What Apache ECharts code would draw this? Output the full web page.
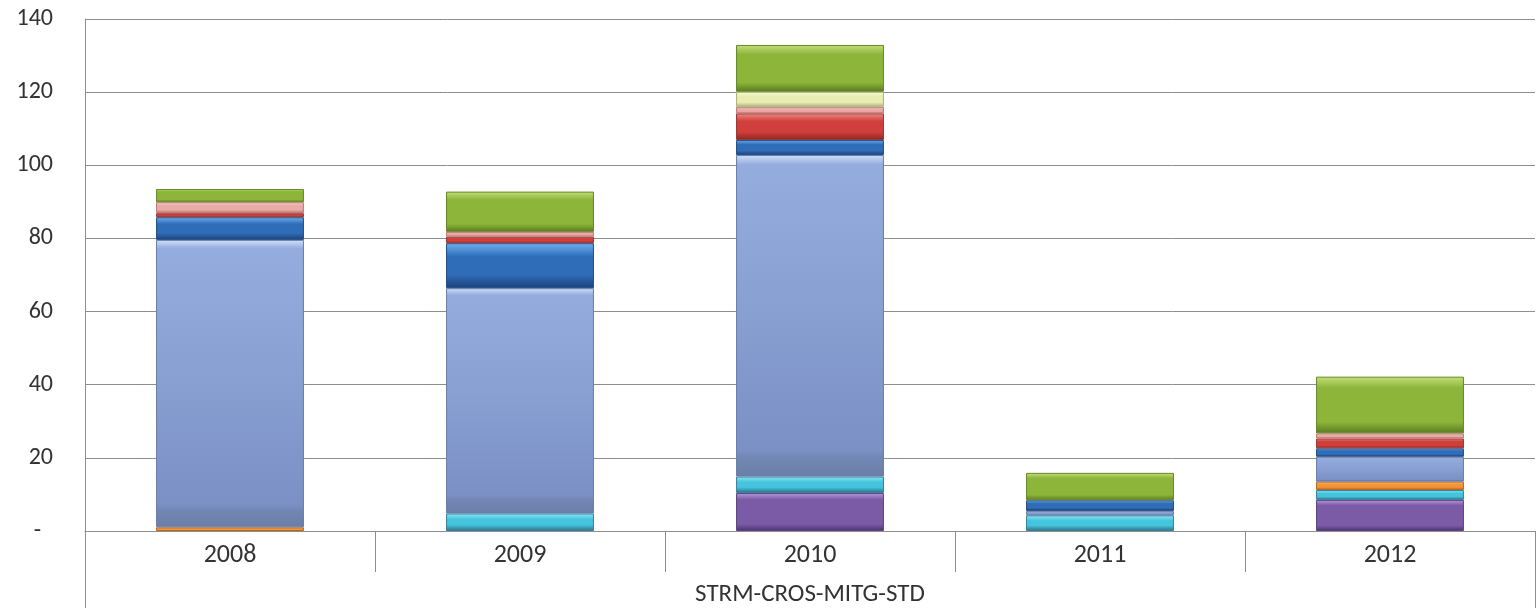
<!DOCTYPE html>
<html>
<head>
<meta charset="utf-8">
<style>
  html, body { margin: 0; padding: 0; background: #ffffff; }
  #chart { width: 1537px; height: 608px; }
</style>
<script src="https://cdn.jsdelivr.net/npm/echarts@6/dist/echarts.min.js"></script>
</head>
<body>
<div id="chart"></div>
<script>
// Years on the category axis and the group they belong to
const years = ['2008', '2009', '2010', '2011', '2012'];
const groupLabel = 'STRM-CROS-MITG-STD';

// Value axis ticks
const yTicks = [0, 20, 40, 60, 80, 100, 120, 140];

// Stacked components, bottom to top
const purpleVals = [null, null, 10.4, null, 8.5];
const cyanVals   = [null, 4.8, 4.5, 4.3, 2.7];
const orangeVals = [1.0, null, null, null, 2.3];
const paleBlueVals = [78.6, 61.6, 87.9, 1.2, 6.8];
const blueVals   = [6.2, 12.3, 4.1, 2.9, 2.3];
const redVals    = [1.1, 1.8, 7.3, null, 2.7];
const pinkVals   = [3.0, 1.3, 1.8, null, 1.4];
const creamVals  = [null, null, 4.1, null, null];
const greenVals  = [3.6, 11.0, 12.8, 7.5, 15.5];

const FONT = "Carlito, 'Liberation Sans Narrow', 'Liberation Sans', sans-serif";
const GRID_GREY = '#8e8e8e';
const TEXT = '#333333';

// Beveled look: light top edge, body colour, dark bottom edge
function bevel(light, main, dark, edge) {
  return new echarts.graphic.LinearGradient(0, 0, 0, 1, [
    { offset: 0, color: light },
    { offset: edge, color: main },
    { offset: 1 - edge, color: main },
    { offset: 1, color: dark }
  ]);
}

const layers = [
  { name: 'purple',   data: purpleVals,   fill: bevel('#b59ad8', '#7b5aa6', '#4a3470', 0.18), border: '#5a4380' },
  { name: 'cyan',     data: cyanVals,     fill: bevel('#8fe6f5', '#45c4de', '#2a6f86', 0.35), border: '#3a8096' },
  { name: 'orange',   data: orangeVals,   fill: bevel('#fbc27a', '#f39437', '#b0601e', 0.35), border: '#b56822' },
  { name: 'paleBlue', data: paleBlueVals,
    fill: new echarts.graphic.LinearGradient(0, 0, 0, 1, [
      { offset: 0, color: '#cfe2f8' },
      { offset: 0.03, color: '#95acdf' },
      { offset: 0.5, color: '#889fd2' },
      { offset: 0.92, color: '#7b90c4' },
      { offset: 0.94, color: '#7387b5' },
      { offset: 1, color: '#6a7ea8' }
    ]), border: '#6a7ca6' },
  { name: 'blue',     data: blueVals,     fill: bevel('#6fb0ef', '#2f6db8', '#1c4178', 0.3), border: '#244d85' },
  { name: 'red',      data: redVals,      fill: bevel('#f08a86', '#d03f3b', '#8a2624', 0.3), border: '#953633' },
  { name: 'pink',     data: pinkVals,     fill: bevel('#fbd2cf', '#eaaaa6', '#b56f6b', 0.3), border: '#bb7a76' },
  { name: 'cream',    data: creamVals,    fill: bevel('#fbfbd4', '#e9edb4', '#a9b57a', 0.3), border: '#aab47c' },
  { name: 'green',    data: greenVals,    fill: bevel('#c3e07a', '#8db53a', '#5a7a1e', 0.2), border: '#66852a' }
];

const chart = echarts.init(document.getElementById('chart'), null, { renderer: 'canvas' });

chart.setOption({
  animation: false,
  backgroundColor: '#ffffff',
  grid: { left: 85, right: 2, top: 19, bottom: 77, containLabel: false },
  xAxis: [
    {
      type: 'category',
      data: years,
      position: 'bottom',
      boundaryGap: true,
      axisLine: { show: true, lineStyle: { color: GRID_GREY, width: 1 } },
      axisTick: { show: true, interval: 0, length: 41, lineStyle: { color: GRID_GREY, width: 1 } },
      axisLabel: { margin: 11, color: TEXT, fontFamily: FONT, fontSize: 26 },
      splitLine: { show: false }
    },
    {
      type: 'category',
      data: [groupLabel],
      position: 'bottom',
      boundaryGap: true,
      axisLine: { show: false },
      axisTick: { show: true, interval: 0, length: 77, lineStyle: { color: GRID_GREY, width: 1 } },
      axisLabel: { margin: 51, color: TEXT, fontFamily: FONT, fontSize: 25 },
      splitLine: { show: false }
    }
  ],
  yAxis: {
    type: 'value',
    min: yTicks[0],
    max: yTicks[yTicks.length - 1],
    interval: yTicks[1] - yTicks[0],
    axisLine: { show: true, lineStyle: { color: GRID_GREY, width: 1 } },
    axisTick: { show: false },
    splitLine: { show: true, lineStyle: { color: GRID_GREY, width: 1 } },
    axisLabel: {
      margin: 32,
      color: TEXT,
      fontFamily: FONT,
      fontSize: 24,
      formatter: function (v) { return v === 0 ? '{dash|-}' : String(v); },
      rich: { dash: { padding: [0, 12, 0, 0], fontFamily: FONT, fontSize: 24, color: TEXT } }
    }
  },
  series: layers.map(function (l) {
    return {
      name: l.name,
      type: 'bar',
      stack: 'total',
      xAxisIndex: 0,
      barWidth: '51%',
      data: l.data,
      itemStyle: { color: l.fill, borderColor: l.border, borderWidth: 1 },
      emphasis: { disabled: true }
    };
  })
});
</script>
</body>
</html>
